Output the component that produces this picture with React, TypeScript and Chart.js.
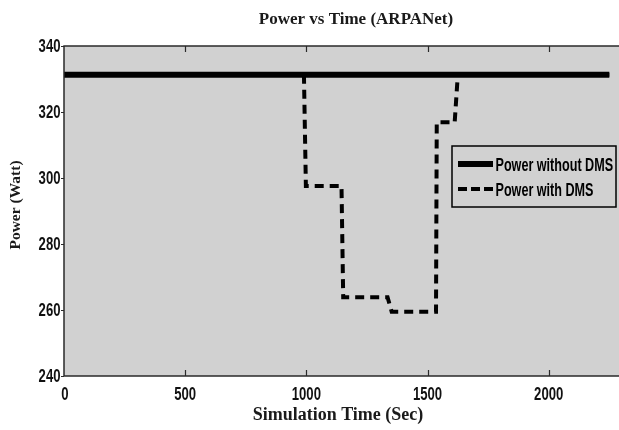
import React, { useEffect, useRef } from 'react';
import { Chart, registerables } from 'chart.js';

Chart.register(...registerables);

const CHART_TITLE = 'Power vs Time (ARPANet)';
const X_AXIS_TITLE = 'Simulation Time (Sec)';
const Y_AXIS_TITLE = 'Power (Watt)';
const X_TICKS = [0, 500, 1000, 1500, 2000];
const Y_TICKS = [240, 260, 280, 300, 320, 340];
const SERIES_LABELS = ['Power without DMS', 'Power with DMS'];

const TIME_WITHOUT_DMS = [0, 2250];
const POWER_WITHOUT_DMS = [331.3, 331.3];

const TIME_WITH_DMS = [0, 990, 998, 1145, 1152, 1335, 1352, 1535, 1538, 1612, 1625, 2250];
const POWER_WITH_DMS = [331.3, 331.3, 297.6, 297.6, 263.9, 263.9, 259.5, 259.5, 316.9, 316.9, 331.3, 331.3];

const SERIF = '"Liberation Serif", "DejaVu Serif", serif';
const SANS = '"Liberation Sans", Arial, sans-serif';
const PLOT_BG = '#d1d1d1';

function narrowText(ctx: any, text: string, x: number, y: number, font: string, sx: number, align: string) {
  ctx.save();
  ctx.font = font;
  ctx.translate(x, y);
  ctx.scale(sx, 1);
  ctx.textAlign = align;
  ctx.textBaseline = 'alphabetic';
  ctx.fillText(text, 0, 0);
  ctx.restore();
}

const decorPlugin = {
  id: 'decor',
  beforeDraw(chart: any) {
    const { ctx, chartArea: a } = chart;
    ctx.save();
    ctx.fillStyle = PLOT_BG;
    ctx.fillRect(a.left, a.top, a.right - a.left, a.bottom - a.top);
    ctx.restore();
  },
  afterDatasetsDraw(chart: any) {
    const { ctx, chartArea: a } = chart;
    const xs = chart.scales.x;
    const ys = chart.scales.y;
    ctx.save();
    // frame (left, top, bottom)
    ctx.strokeStyle = '#2a2a2a';
    ctx.lineWidth = 1.5;
    ctx.beginPath();
    ctx.moveTo(a.right, a.top);
    ctx.lineTo(a.left, a.top);
    ctx.lineTo(a.left, a.bottom);
    ctx.lineTo(a.right, a.bottom);
    ctx.stroke();
    // tick marks
    ctx.lineWidth = 1.2;
    ctx.beginPath();
    X_TICKS.forEach((v) => {
      if (v === 0) return;
      const px = Math.round(xs.getPixelForValue(v)) + 0.5;
      ctx.moveTo(px, a.bottom);
      ctx.lineTo(px, a.bottom - 6);
      ctx.moveTo(px, a.top);
      ctx.lineTo(px, a.top + 6);
    });
    Y_TICKS.forEach((v) => {
      const py = Math.round(ys.getPixelForValue(v)) + 0.5;
      ctx.moveTo(a.left - 3, py);
      ctx.lineTo(a.left, py);
    });
    ctx.stroke();

    // tick labels
    ctx.fillStyle = '#111';
    const tickFont = `bold 17.5px ${SANS}`;
    X_TICKS.forEach((v) => {
      const px = xs.getPixelForValue(v);
      narrowText(ctx, String(v), px + (v === 0 ? 1 : 0), a.bottom + 23.5, tickFont, 0.75, 'center');
    });
    Y_TICKS.forEach((v) => {
      const py = ys.getPixelForValue(v);
      narrowText(ctx, String(v), a.left - 3.5, py + 6.3, tickFont, 0.75, 'right');
    });

    // legend
    const bx = 452, by = 146, bw = 164, bh = 61;
    ctx.fillStyle = PLOT_BG;
    ctx.fillRect(bx, by, bw, bh);
    ctx.strokeStyle = '#000';
    ctx.lineWidth = 1.5;
    ctx.strokeRect(bx, by, bw, bh);
    const rows = [164, 189];
    chart.data.datasets.forEach((ds: any, i: number) => {
      const y = rows[i];
      ctx.beginPath();
      ctx.strokeStyle = ds.borderColor;
      ctx.lineWidth = ds.borderWidth;
      ctx.setLineDash(ds.borderDash ? [9, 4] : []);
      ctx.moveTo(458, y);
      ctx.lineTo(493, y);
      ctx.stroke();
      ctx.setLineDash([]);
      ctx.fillStyle = '#000';
      narrowText(ctx, ds.label, 495.5, y + 6.5, `bold 18px ${SANS}`, 0.7, 'left');
    });
    ctx.restore();
  },
  afterDraw(chart: any) {
    const { ctx } = chart;
    ctx.save();
    ctx.fillStyle = '#1a1a1a';
    ctx.textAlign = 'center';
    ctx.textBaseline = 'middle';
    ctx.font = `bold 17px ${SERIF}`;
    ctx.fillText(CHART_TITLE, 356, 20);
    ctx.font = `bold 18px ${SERIF}`;
    ctx.fillText(X_AXIS_TITLE, 338, 415);
    ctx.translate(15.5, 205);
    ctx.rotate(-Math.PI / 2);
    ctx.font = `bold 15.5px ${SERIF}`;
    ctx.fillText(Y_AXIS_TITLE, 0, 0);
    ctx.restore();
  },
};

export default function App() {
  const ref = useRef<HTMLCanvasElement | null>(null);
  useEffect(() => {
    if (!ref.current) return;
    const chart = new Chart(ref.current, {
      type: 'line',
      data: {
        datasets: [
          {
            label: SERIES_LABELS[0],
            data: TIME_WITHOUT_DMS.map((t, i) => ({ x: t, y: POWER_WITHOUT_DMS[i] })),
            borderColor: '#000',
            borderWidth: 6,
            pointRadius: 0,
            tension: 0,
            fill: false,
          },
          {
            label: SERIES_LABELS[1],
            data: TIME_WITH_DMS.map((t, i) => ({ x: t, y: POWER_WITH_DMS[i] })),
            borderColor: '#000',
            borderWidth: 4,
            borderDash: [9, 6],
            borderCapStyle: 'butt',
            pointRadius: 0,
            tension: 0,
            fill: false,
          },
        ],
      },
      options: {
        responsive: false,
        animation: false,
        devicePixelRatio: 1,
        layout: { padding: { top: 46, right: 0, bottom: 0, left: 0 } },
        plugins: {
          legend: { display: false },
          title: { display: false },
          tooltip: { enabled: false },
        },
        scales: {
          x: {
            type: 'linear',
            min: 0,
            max: 2290,
            afterBuildTicks: (s: any) => {
              s.ticks = X_TICKS.map((value) => ({ value }));
            },
            afterFit: (s: any) => {
              s.height = 54;
              s.paddingLeft = 0;
              s.paddingRight = 0;
            },
            grid: { display: false, drawTicks: false },
            border: { display: false },
            ticks: { display: false },
          },
          y: {
            type: 'linear',
            min: 240,
            max: 340,
            afterBuildTicks: (s: any) => {
              s.ticks = Y_TICKS.map((value) => ({ value }));
            },
            afterFit: (s: any) => {
              s.width = 64;
              s.paddingTop = 0;
              s.paddingBottom = 0;
            },
            grid: { display: false, drawTicks: false },
            border: { display: false },
            ticks: { display: false },
          },
        },
      },
      plugins: [decorPlugin],
    } as any);
    return () => chart.destroy();
  }, []);
  return (
    <div style={{ position: 'absolute', left: 0, top: 0, width: 619, height: 430, background: '#fff' }}>
      <canvas ref={ref} width={619} height={430} style={{ display: 'block' }} />
    </div>
  );
}
